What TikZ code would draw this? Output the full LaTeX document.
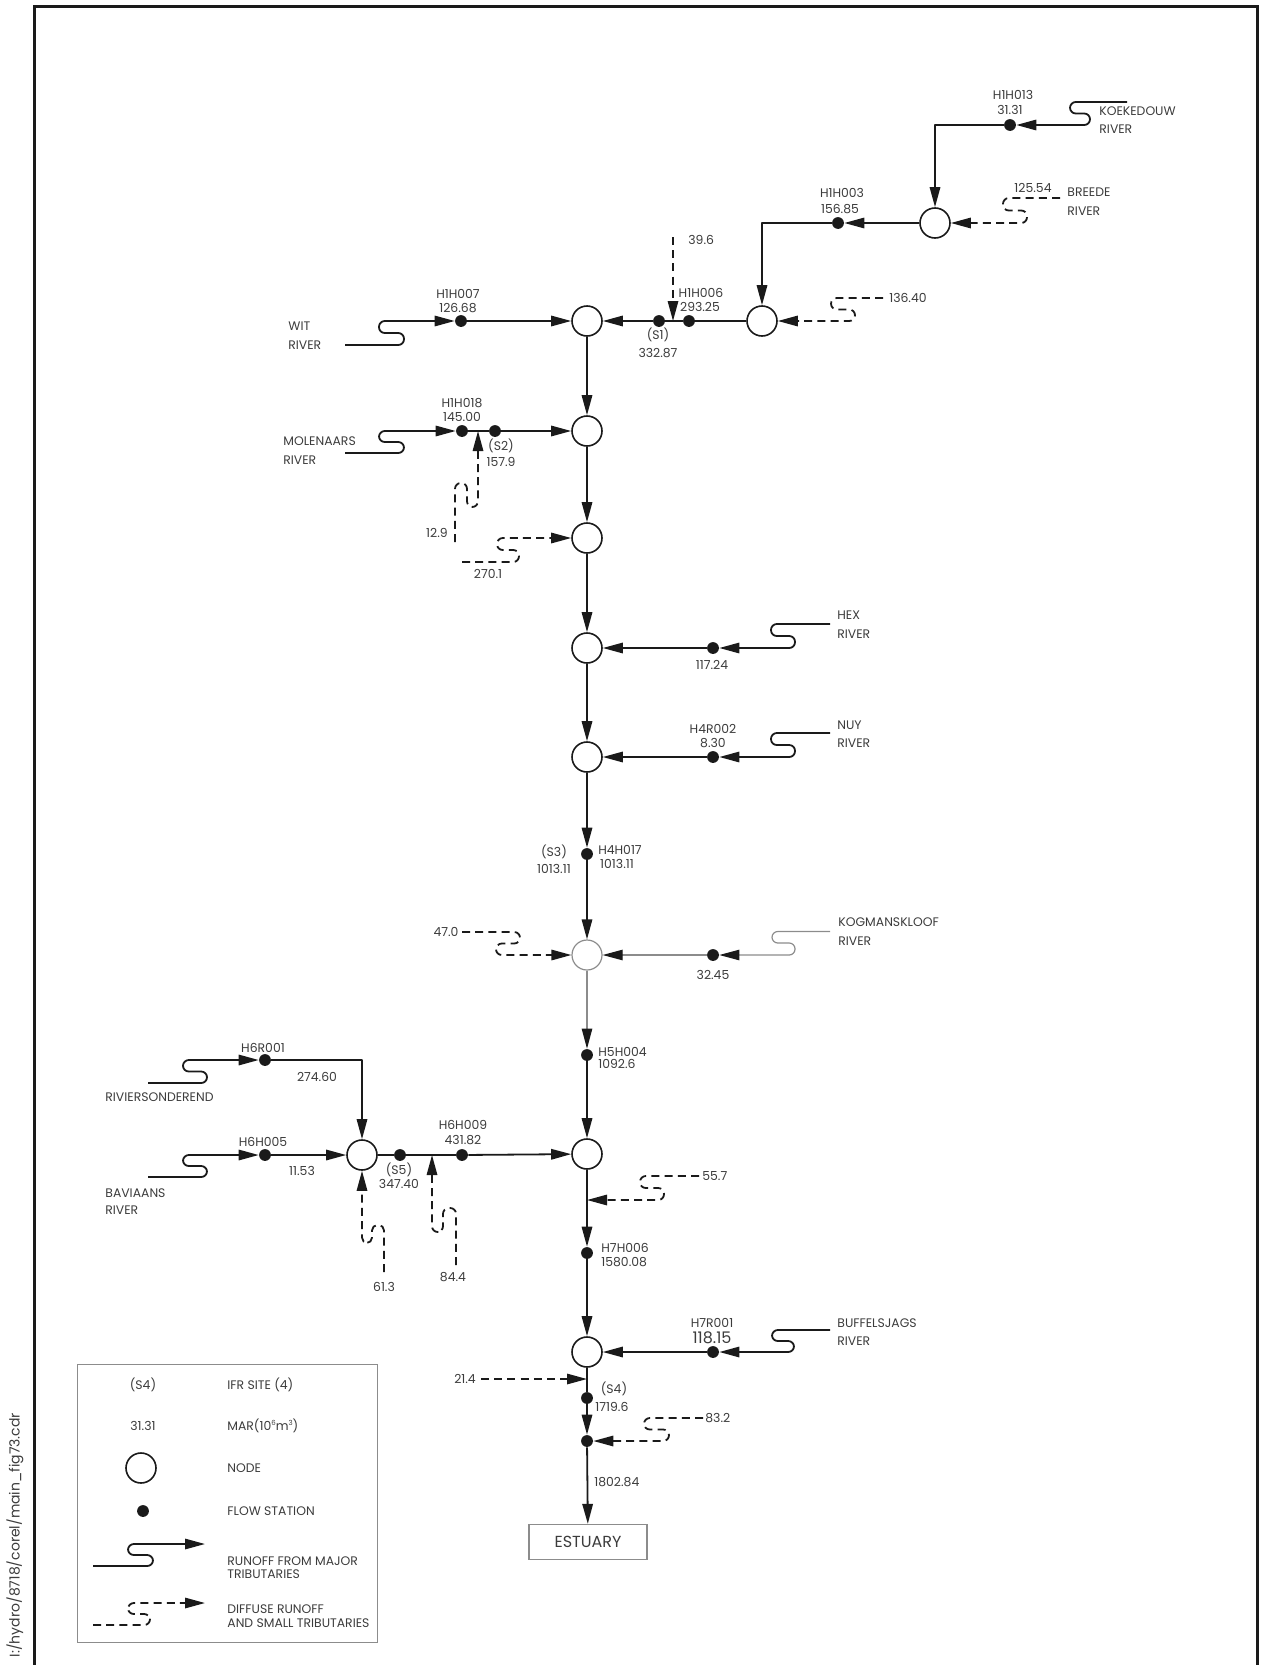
\documentclass[tikz,border=0pt]{standalone}
\usepackage{fontspec}
\setmainfont{Poppins}
\usetikzlibrary{arrows.meta}
\definecolor{ink}{HTML}{1A1A1A}
\definecolor{txt}{HTML}{3C3C3C}
\definecolor{lite}{HTML}{8C8C8C}
\begin{document}
\begin{tikzpicture}[x=0.5pt,y=-0.5pt,
  ln/.style={line width=0.9pt, draw=ink, line join=round},
  gln/.style={line width=0.6pt, draw=lite},
  dsh/.style={ln, dash pattern=on 4pt off 2.6pt},
  arr/.style={-{Triangle[length=10pt,width=5.2pt]}},
  garr/.style={-{Triangle[length=10pt,width=5.2pt,color=ink]}},
  sbend/.style={rounded corners=2.9pt},
  nd/.style={circle, draw=ink, line width=0.8pt, fill=white, minimum size=15pt, inner sep=0pt},
  gnd/.style={nd, draw=lite, line width=0.6pt},
  fs/.style={circle, fill=ink, minimum size=5.9pt, inner sep=0pt},
  lb/.style={font=\fontsize{6.2}{7}\selectfont, text=txt, inner sep=0pt},
  lw/.style={lb, anchor=west},
  big/.style={font=\fontsize{8}{9}\selectfont, text=txt, inner sep=0pt},
]
\useasboundingbox (0,0) rectangle (1260,1665);
\draw[line width=1.5pt, draw=ink] (34,1670) -- (34,6) -- (1257,6) -- (1257,1670);

% ---------- nodes ----------
\node[nd] (n1) at (935,223) {};
\node[nd] (n2) at (762,321) {};
\node[nd] (n3) at (587,321) {};
\node[nd] (n4) at (587,431) {};
\node[nd] (n5) at (587,538) {};
\node[nd] (n6) at (587,648) {};
\node[nd] (n7) at (587,757) {};
\node[gnd] (n8) at (587,955) {};
\node[nd] (n9) at (362,1155) {};
\node[nd] (n10) at (587,1154) {};
\node[nd] (n11) at (587,1352) {};
\node[draw=lite, line width=0.6pt, minimum width=59pt, minimum height=17.5pt, inner sep=0pt, big] (est) at (588,1542) {ESTUARY};

% ---------- flow stations ----------
\node[fs] (h1h013) at (1010,125) {};
\node[fs] (h1h003) at (838,223) {};
\node[fs] (h1h006) at (689,321) {};
\node[fs] (s1) at (659,321) {};
\node[fs] (h1h007) at (461,321) {};
\node[fs] (h1h018) at (462,431) {};
\node[fs] (s2) at (495,431) {};
\node[fs] (hex) at (713,648) {};
\node[fs] (nuy) at (713,757) {};
\node[fs] (h4h017) at (587,854) {};
\node[fs] (kog) at (713,955) {};
\node[fs] (h5h004) at (587,1055) {};
\node[fs] (h6r001) at (265,1060) {};
\node[fs] (h6h005) at (265,1155) {};
\node[fs] (s5) at (400,1155) {};
\node[fs] (h6h009) at (462,1155) {};
\node[fs] (h7h006) at (587,1253) {};
\node[fs] (h7r001) at (713,1352) {};
\node[fs] (s4) at (587,1398) {};
\node[fs] (jn) at (587,1441) {};

% ---------- free ends / junctions ----------
\coordinate (koe) at (1127,102);
\coordinate (bre) at (1060,198);
\coordinate (d136) at (883,298);
\coordinate (d39) at (673,237);
\coordinate (j39) at (673,321);
\coordinate (wit) at (345,345);
\coordinate (mol) at (345,453);
\coordinate (d129) at (455,542);
\coordinate (j129) at (478,431);
\coordinate (d270) at (462,562);
\coordinate (hexr) at (830,624);
\coordinate (nuyr) at (830,733);
\coordinate (kogr) at (830,931.5);
\coordinate (d47) at (462,932);
\coordinate (riv) at (148,1083);
\coordinate (bav) at (148,1177);
\coordinate (d613) at (384,1272);
\coordinate (d844) at (456,1265);
\coordinate (j844) at (432,1155);
\coordinate (d557) at (699,1176);
\coordinate (j557) at (587,1200);
\coordinate (buf) at (830,1330);
\coordinate (d214) at (481,1379);
\coordinate (j214) at (587,1379);
\coordinate (d832) at (703,1418);

% ---------- upper branch ----------
\draw[ln, sbend, arr] (koe) -- (1070,102) -- (1070,113.5) -- (1090,113.5) -- (1090,125) -- (h1h013);
\draw[ln, arr] (h1h013) -| (n1);
\draw[dsh, sbend, arr] (bre) -- (1003,198) -- (1003,210.5) -- (1027,210.5) -- (1027,223) -- (n1);
\draw[ln, arr] (n1) -- (h1h003);
\draw[ln, arr] (h1h003) -| (n2);
\draw[dsh, sbend, arr] (d136) -- (831,298) -- (831,309.5) -- (855,309.5) -- (855,321) -- (n2);
\draw[ln] (n2) -- (h1h006);
\draw[ln] (h1h006) -- (s1);
\draw[ln, arr] (s1) -- (n3);
\draw[dsh, arr] (d39) -- (j39);
\draw[ln, sbend, arr] (wit) -- (404,345) -- (404,333) -- (379,333) -- (379,321) -- (h1h007);
\draw[ln, arr] (h1h007) -- (n3);

\draw[ln, sbend, arr] (mol) -- (404,453) -- (404,442) -- (379,442) -- (379,431) -- (h1h018);
\draw[ln] (h1h018) -- (s2);
\draw[ln, arr] (s2) -- (n4);
\draw[dsh, sbend, arr] (d129) -- (455,483) -- (467,483) -- (467,507) -- (478,507) -- (j129);
\draw[dsh, sbend, arr] (d270) -- (519,562) -- (519,550) -- (497,550) -- (497,538) -- (n5);

% ---------- main stem ----------
\draw[ln, arr] (n3) -- (n4);
\draw[ln, arr] (n4) -- (n5);
\draw[ln, arr] (n5) -- (n6);
\draw[ln, arr] (n6) -- (n7);
\draw[ln, arr] (n7) -- (h4h017);
\draw[ln, arr] (h4h017) -- (n8);
\draw[gln, garr] (n8) -- (h5h004);
\draw[ln, arr] (h5h004) -- (n10);
\draw[ln, arr] (n10) -- (h7h006);
\draw[ln, arr] (h7h006) -- (n11);
\draw[ln] (n11) -- (s4);
\draw[ln, arr] (s4) -- (jn);
\draw[ln, arr] (jn) -- (est);

% ---------- right tributaries ----------
\draw[ln, sbend, arr] (hexr) -- (771,624) -- (771,636) -- (795,636) -- (795,648) -- (hex);
\draw[ln, arr] (hex) -- (n6);
\draw[ln, sbend, arr] (nuyr) -- (771,733) -- (771,745) -- (795,745) -- (795,757) -- (nuy);
\draw[ln, arr] (nuy) -- (n7);
\draw[gln, sbend, garr] (kogr) -- (772,931.5) -- (772,943) -- (795,943) -- (795,955) -- (kog);
\draw[gln, garr] (kog) -- (n8);
\draw[dsh, sbend, arr] (d47) -- (520,932) -- (520,943.5) -- (496,943.5) -- (496,955) -- (n8);
\draw[ln, sbend, arr] (buf) -- (772,1330) -- (772,1341) -- (794,1341) -- (794,1352) -- (h7r001);
\draw[ln, arr] (h7r001) -- (n11);
\draw[dsh, sbend, arr] (d557) -- (640,1176) -- (640,1188) -- (664,1188) -- (664,1200) -- (j557);
\draw[dsh, arr] (d214) -- (j214);
\draw[dsh, sbend, arr] (d832) -- (644,1418) -- (644,1429.5) -- (669,1429.5) -- (669,1441) -- (jn);

% ---------- lower left branch ----------
\draw[ln, sbend, arr] (riv) -- (207,1083) -- (207,1071.5) -- (183,1071.5) -- (183,1060) -- (h6r001);
\draw[ln, arr] (h6r001) -| (n9);
\draw[ln, sbend, arr] (bav) -- (207,1177) -- (207,1166) -- (183,1166) -- (183,1155) -- (h6h005);
\draw[ln, arr] (h6h005) -- (n9);
\draw[ln] (n9) -- (s5);
\draw[ln] (s5) -- (h6h009);
\draw[ln, arr] (h6h009) -- (n10);
\draw[dsh, rounded corners=2.7pt, arr] (d613) -- (384,1225) -- (372,1225) -- (372,1243) -- (362,1243) -- (n9);
\draw[dsh, sbend, arr] (d844) -- (456,1208) -- (443,1208) -- (443,1232) -- (432,1232) -- (j844);

% ---------- labels ----------
\node[lb] (t1) at (1013,95) {H1H013};
\node[lb] (t2) at (1010,110) {31.31};
\node[lw] (t3) at (1099,111) {KOEKEDOUW};
\node[lw] (t4) at (1099,129) {RIVER};
\node[lb] (t5) at (842,193) {H1H003};
\node[lb] (t6) at (840,209) {156.85};
\node[lb] (t7) at (1033,188) {125.54};
\node[lw] (t8) at (1067,192) {BREEDE};
\node[lw] (t9) at (1067,211) {RIVER};
\node[lw] (t10) at (688,240) {39.6};
\node[lb] (t11) at (908,298) {136.40};
\node[lb] (t12) at (701,293) {H1H006};
\node[lb] (t13) at (700,307) {293.25};
\node[lb] (t14) at (658,335) {(S1)};
\node[lb] (t15) at (658,353) {332.87};
\node[lb] (t16) at (458,294) {H1H007};
\node[lb] (t17) at (458,308) {126.68};
\node[lw] (t18) at (288,326) {WIT};
\node[lw] (t19) at (288,345) {RIVER};
\node[lb] (t20) at (462,403) {H1H018};
\node[lb] (t21) at (462,417) {145.00};
\node[lb] (t22) at (501,446) {(S2)};
\node[lb] (t23) at (501,462) {157.9};
\node[lw] (t24) at (283,441) {MOLENAARS};
\node[lw] (t25) at (283,460) {RIVER};
\node[lb] (t26) at (437,533) {12.9};
\node[lb] (t27) at (488,574) {270.1};
\node[lw] (t28) at (837,615) {HEX};
\node[lw] (t29) at (837,634) {RIVER};
\node[lb] (t30) at (712,665) {117.24};
\node[lb] (t31) at (713,729) {H4R002};
\node[lb] (t32) at (713,743) {8.30};
\node[lw] (t33) at (837,725) {NUY};
\node[lw] (t34) at (837,743) {RIVER};
\node[lb] (t35) at (554,852) {(S3)};
\node[lb] (t36) at (554,869) {1013.11};
\node[lb] (t37) at (620,850) {H4H017};
\node[lb] (t38) at (617,864) {1013.11};
\node[lw] (t39) at (838,922) {KOGMANSKLOOF};
\node[lw] (t40) at (838,941) {RIVER};
\node[lb] (t41) at (713,975) {32.45};
\node[lb] (t42) at (446,932) {47.0};
\node[lw] (t43) at (598,1052) {H5H004};
\node[lw] (t44) at (598,1064) {1092.6};
\node[lb] (t45) at (263,1048) {H6R001};
\node[lb] (t46) at (317,1077) {274.60};
\node[lw] (t47) at (105,1097) {RIVIERSONDEREND};
\node[lb] (t48) at (263,1142) {H6H005};
\node[lb] (t49) at (302,1171) {11.53};
\node[lw] (t50) at (105,1193) {BAVIAANS};
\node[lw] (t51) at (105,1210) {RIVER};
\node[lb] (t52) at (399,1170) {(S5)};
\node[lb] (t53) at (399,1184) {347.40};
\node[lb] (t54) at (463,1125) {H6H009};
\node[lb] (t55) at (463,1140) {431.82};
\node[lb] (t56) at (384,1287) {61.3};
\node[lb] (t57) at (453,1277) {84.4};
\node[lw] (t58) at (702,1176) {55.7};
\node[lw] (t59) at (601,1248) {H7H006};
\node[lw] (t60) at (601,1262) {1580.08};
\node[lb] (t61) at (712,1323) {H7R001};
\node[big] (t62) at (712,1338) {118.15};
\node[lw] (t63) at (837,1323) {BUFFELSJAGS};
\node[lw] (t64) at (837,1341) {RIVER};
\node[lb] (t65) at (465,1379) {21.4};
\node[lb] (t66) at (614,1389) {(S4)};
\node[lw] (t67) at (595,1407) {1719.6};
\node[lw] (t68) at (705,1418) {83.2};
\node[lw] (t69) at (594,1482) {1802.84};

% ---------- legend ----------
\draw[line width=0.5pt, draw=lite] (77,1364) rectangle (377,1642);
\node[lb] (l1) at (143,1385) {(S4)};
\node[lw] (l2) at (227,1385) {IFR SITE (4)};
\node[lb] (l3) at (143,1426) {31.31};
\node[lw] (l4) at (227,1426) {MAR(10\raisebox{0.8ex}{\fontsize{3.5}{4}\selectfont 6}m\raisebox{0.8ex}{\fontsize{3.5}{4}\selectfont 3})};
\node[nd] (lnode) at (141,1468) {};
\node[lw] (l5) at (227,1468) {NODE};
\node[fs] (ldot) at (143,1511) {};
\node[lw] (l6) at (227,1511) {FLOW STATION};
\coordinate (lm0) at (93,1566);
\coordinate (lm1) at (205,1544);
\draw[ln, sbend, arr] (lm0) -- (153,1566) -- (153,1555) -- (128,1555) -- (128,1544) -- (lm1);
\node[lw] (l7) at (227,1561) {RUNOFF FROM MAJOR};
\node[lw] (l8) at (227,1574) {TRIBUTARIES};
\coordinate (ld0) at (93,1625);
\coordinate (ld1) at (205,1603);
\draw[dsh, sbend, arr] (ld0) -- (150,1625) -- (150,1614) -- (128,1614) -- (128,1603) -- (ld1);
\node[lw] (l9) at (227,1609) {DIFFUSE RUNOFF};
\node[lw] (l10) at (227,1623) {AND SMALL TRIBUTARIES};

% ---------- side text ----------
\node[font=\fontsize{7}{8}\selectfont, text=txt, rotate=90, inner sep=0pt] (side) at (15,1535) {I:/hydro/8718/corel/main\_fig73.cdr};
\end{tikzpicture}
\end{document}
